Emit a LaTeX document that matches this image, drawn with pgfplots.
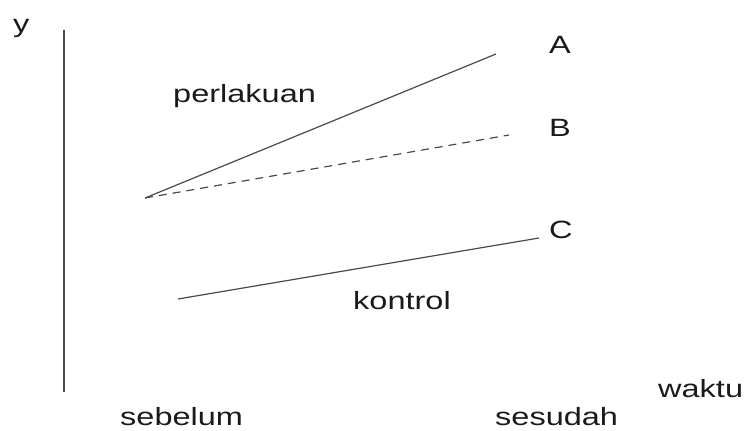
\documentclass[border=0pt]{standalone}
\usepackage{pgfplots}
\pgfplotsset{compat=1.18}
\usepackage{fontspec}
\usepackage{graphicx}
\setmainfont{Liberation Sans}
\definecolor{ln}{HTML}{4A4A4A}
\definecolor{tx}{HTML}{1A1A1A}
\newcommand{\lab}[1]{{\fontsize{25}{30}\selectfont\scalebox{1.3}[1]{#1}}}
\begin{document}
\begin{tikzpicture}
\begin{axis}[name=ax,
  scale only axis, width=745pt, height=431pt,
  xmin=0, xmax=745, ymin=0, ymax=431, y dir=reverse,
  axis lines=none, ticks=none, clip=false]
% vertical axis
\addplot[ln, line width=1.1pt] coordinates {(64,30) (64,392)};
% A: perlakuan
\addplot[ln, line width=1.2pt] coordinates {(145,198) (496,54)};
% B: dashed
\addplot[ln, line width=1.2pt, dash pattern=on 8pt off 6pt] coordinates {(145,198) (509,135)};
% C: kontrol
\addplot[ln, line width=1.2pt] coordinates {(178,299) (539,238)};
\node[tx, anchor=base west, inner sep=0pt] at (axis cs:13,32) {\lab{y}};
\node[tx, anchor=base west, inner sep=0pt] at (axis cs:173,102) {\lab{perlakuan}};
\node[tx, anchor=base west, inner sep=0pt] at (axis cs:353,309) {\lab{kontrol}};
\node[tx, anchor=base west, inner sep=0pt] at (axis cs:549,53) {\lab{A}};
\node[tx, anchor=base west, inner sep=0pt] at (axis cs:549,136) {\lab{B}};
\node[tx, anchor=base west, inner sep=0pt] at (axis cs:549,238) {\lab{C}};
\node[tx, anchor=base west, inner sep=0pt] at (axis cs:658,397) {\lab{waktu}};
\node[tx, anchor=base west, inner sep=0pt] at (axis cs:120,425) {\lab{sebelum}};
\node[tx, anchor=base west, inner sep=0pt] at (axis cs:495,425) {\lab{sesudah}};
\end{axis}
\pgfresetboundingbox
\path (ax.south west) rectangle (ax.north east);
\end{tikzpicture}
\end{document}
